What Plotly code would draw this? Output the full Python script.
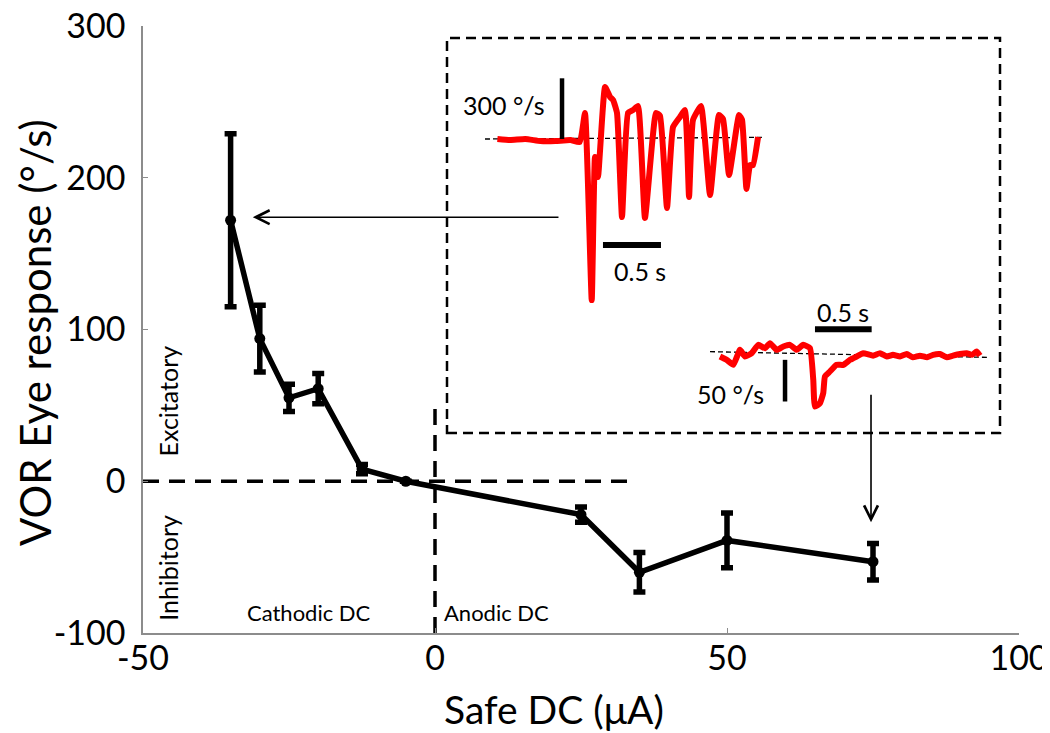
import plotly.graph_objects as go

# main series: safe DC current vs VOR eye response
dc_ua = [-35, -30, -25, -20, -12.5, -5, 25, 35, 50, 75]
vor_resp = [172, 94, 55, 61, 8, 0, -22, -60, -39, -53]
vor_err = [57, 22, 9, 10, 3, 0, 5, 13, 18, 12]

x_ticks = [-50, 0, 50, 100]
x_ticktext = ["-50", "0", "50", "100"]
y_ticks = [-100, 0, 100, 200, 300]
y_ticktext = ["-100", "0", "100", "200", "300"]

# inset trace 1 (cathodic, -35 uA): time (s), eye velocity (deg/s)
t1 = [0.15, 0.26, 0.39, 0.52, 0.65, 0.78, 0.86, 0.905, 0.963, 0.991, 1.017, 1.078,
      1.121, 1.147, 1.181, 1.224, 1.276, 1.319, 1.362, 1.422, 1.517, 1.552, 1.612,
      1.664, 1.724, 1.767, 1.802, 1.836, 1.905, 1.983, 2.06, 2.095, 2.147, 2.233,
      2.259, 2.297, 2.328, 2.353, 2.397]
v1 = [0, -5, 0, -10, -10, -5, -15, 129, -796, -89, -188, 257,
      208, 193, 129, -386, 129, 143, 163, -390, 129, 114, -341,
      59, 109, 143, -287, 94, 163, -277, 119, 99, -178, 119,
      94, -247, -129, -129, 10]

# inset trace 2 (anodic, 75 uA)
t2 = [0.176, 0.235, 0.294, 0.353, 0.397, 0.456, 0.514, 0.573, 0.617, 0.676, 0.735,
      0.794, 0.853, 0.911, 0.97, 0.999, 1.014, 1.058, 1.087, 1.102, 1.146, 1.205,
      1.264, 1.323, 1.381, 1.44, 1.526, 1.587, 1.649, 1.702, 1.764, 1.823, 1.878,
      1.94, 2.002, 2.055, 2.116, 2.178, 2.231, 2.293, 2.352, 2.399, 2.44, 2.469]
v2 = [-3, -7, -13, 5, -3, 1, 11, 7, 13, 5, 9,
      11, 5, 11, 7, -31, -63, -59, -47, -27, -21, -13,
      -13, -7, -3, 1, -2, 1, -3, -1, -3, 0, -4,
      -2, -4, -1, 0, -4, -2, 0, 1, -1, 3, -2]

# scale bars
bar1_v = [0, 300]
bar1_t = [1.06, 1.56]
bar2_v = [-7, -57]
bar2_t = [1.014, 1.514]

# plot area on the page (the page body adds an 8px margin)
PL, PR, PT, PB = 143, 1019, 26, 633


def fx(px):
    return (px - PL) / (PR - PL)


def fy(py):
    return (PB - py) / (PB - PT)


fig = go.Figure()

fig.add_trace(go.Scatter(
    x=dc_ua, y=vor_resp, mode="lines+markers",
    line=dict(color="black", width=5.5),
    marker=dict(color="black", size=11),
    error_y=dict(type="data", array=vor_err, color="black", thickness=5.5, width=6),
))

# inset 1
fig.add_trace(go.Scatter(x=[0.043, 2.43], y=[0, 8], mode="lines", xaxis="x2", yaxis="y2",
                         line=dict(color="black", width=1.3, dash="5px,3px")))
fig.add_trace(go.Scatter(x=t1, y=v1, mode="lines", xaxis="x2", yaxis="y2",
                         line=dict(color="#ff0000", width=6, shape="spline", smoothing=0.4)))
fig.add_trace(go.Scatter(x=[0.707, 0.707], y=bar1_v, mode="lines", xaxis="x2", yaxis="y2",
                         line=dict(color="black", width=4.5)))
fig.add_trace(go.Scatter(x=bar1_t, y=[-524, -524], mode="lines", xaxis="x2", yaxis="y2",
                         line=dict(color="black", width=6)))

# inset 2
fig.add_trace(go.Scatter(x=[0.088, 2.531], y=[2.8, -4], mode="lines", xaxis="x3", yaxis="y3",
                         line=dict(color="black", width=1.3, dash="5px,3px")))
fig.add_trace(go.Scatter(x=t2, y=v2, mode="lines", xaxis="x3", yaxis="y3",
                         line=dict(color="#ff0000", width=6, shape="spline", smoothing=0.4)))
fig.add_trace(go.Scatter(x=[0.75, 0.75], y=bar2_v, mode="lines", xaxis="x3", yaxis="y3",
                         line=dict(color="black", width=4.5)))
fig.add_trace(go.Scatter(x=bar2_t, y=[29.6, 29.6], mode="lines", xaxis="x3", yaxis="y3",
                         line=dict(color="black", width=6)))

font = "Lato, 'Open Sans', sans-serif"


def f(size):
    return dict(family=font, size=size, color="black")


fig.update_layout(
    width=1042, height=725,
    margin=dict(l=PL - 8, r=1050 - PR, t=PT - 8, b=733 - PB),
    paper_bgcolor="white", plot_bgcolor="white",
    showlegend=False,
    font=dict(family=font, color="black"),
    xaxis=dict(range=[-50, 100], tickvals=x_ticks, ticktext=x_ticktext, showgrid=False,
               zeroline=False, automargin=False, ticklabeloverflow="allow",
               showline=True, linecolor="#8c8c8c", linewidth=1.5, ticks="inside", ticklen=5,
               tickcolor="#8c8c8c", tickfont=f(34), ticklabelstandoff=-6),
    yaxis=dict(range=[-100, 300], tickvals=y_ticks, ticktext=y_ticktext, showgrid=False,
               zeroline=False, automargin=False, ticklabeloverflow="allow",
               showline=True, linecolor="#8c8c8c", linewidth=1.5,
               ticks="inside", ticklen=5, tickcolor="#8c8c8c",
               tickfont=f(34), ticklabelstandoff=9),
    xaxis2=dict(domain=[fx(480), fx(780)], range=[0, 2.586], visible=False, anchor="y2"),
    yaxis2=dict(domain=[fy(310), fy(70)], range=[-845, 341], visible=False, anchor="x2"),
    xaxis3=dict(domain=[fx(700), fx(1000)], range=[0, 2.646], visible=False, anchor="y3"),
    yaxis3=dict(domain=[fy(420), fy(300)], range=[-79.2, 64.8], visible=False, anchor="x3"),
)

# axis titles
fig.add_annotation(x=fx(554), y=fy(709), xref="paper", yref="paper", text="Safe DC (μA)",
                   showarrow=False, xanchor="center", yanchor="middle", font=f(39))
fig.add_annotation(x=fx(35), y=fy(333), xref="paper", yref="paper",
                   text="VOR Eye response (°/s)", showarrow=False, textangle=-90,
                   xanchor="center", yanchor="middle", font=f(42))

# reference lines and inset frame
fig.add_shape(type="line", x0=-50, x1=33, y0=0, y1=0, xref="x", yref="y",
              line=dict(color="black", width=3.5, dash="16px,10px"), layer="below")
fig.add_shape(type="line", x0=0, x1=0, y0=-100, y1=50, xref="x", yref="y",
              line=dict(color="black", width=3.5, dash="16px,10px"), layer="below")
fig.add_shape(type="rect", x0=fx(447), x1=fx(1000), y0=fy(433), y1=fy(38), xref="paper",
              yref="paper", line=dict(color="black", width=2.5, dash="10px,6px"))

# arrows
fig.add_annotation(x=-31.2, y=174, ax=21.4, ay=174, xref="x", yref="y", axref="x",
                   ayref="y", text="", showarrow=True, arrowhead=5, arrowsize=1.7,
                   arrowwidth=1.6, arrowcolor="black")
fig.add_annotation(x=74.66, y=-27, ax=74.66, ay=58, xref="x", yref="y", axref="x",
                   ayref="y", text="", showarrow=True, arrowhead=5, arrowsize=1.7,
                   arrowwidth=1.6, arrowcolor="black")

# text labels
fig.add_annotation(x=-45.7, y=52.7, xref="x", yref="y", text="Excitatory", showarrow=False,
                   textangle=-90, font=f(25))
fig.add_annotation(x=-45.7, y=-57, xref="x", yref="y", text="Inhibitory", showarrow=False,
                   textangle=-90, font=f(25))
fig.add_annotation(x=-21.5, y=-86.3, xref="x", yref="y", text="Cathodic DC",
                   showarrow=False, font=f(22))
fig.add_annotation(x=10.5, y=-86.3, xref="x", yref="y", text="Anodic DC", showarrow=False,
                   font=f(22))
fig.add_annotation(x=0.57, y=170, xref="x2", yref="y2", text="300 °/s", showarrow=False,
                   xanchor="right", font=f(25))
fig.add_annotation(x=1.38, y=-650, xref="x2", yref="y2", text="0.5 s", showarrow=False,
                   font=f(25))
fig.add_annotation(x=0.58, y=-48, xref="x3", yref="y3", text="50 °/s", showarrow=False,
                   xanchor="right", font=f(25))
fig.add_annotation(x=1.264, y=50, xref="x3", yref="y3", text="0.5 s", showarrow=False,
                   font=f(25))

fig.write_html("out.html")
